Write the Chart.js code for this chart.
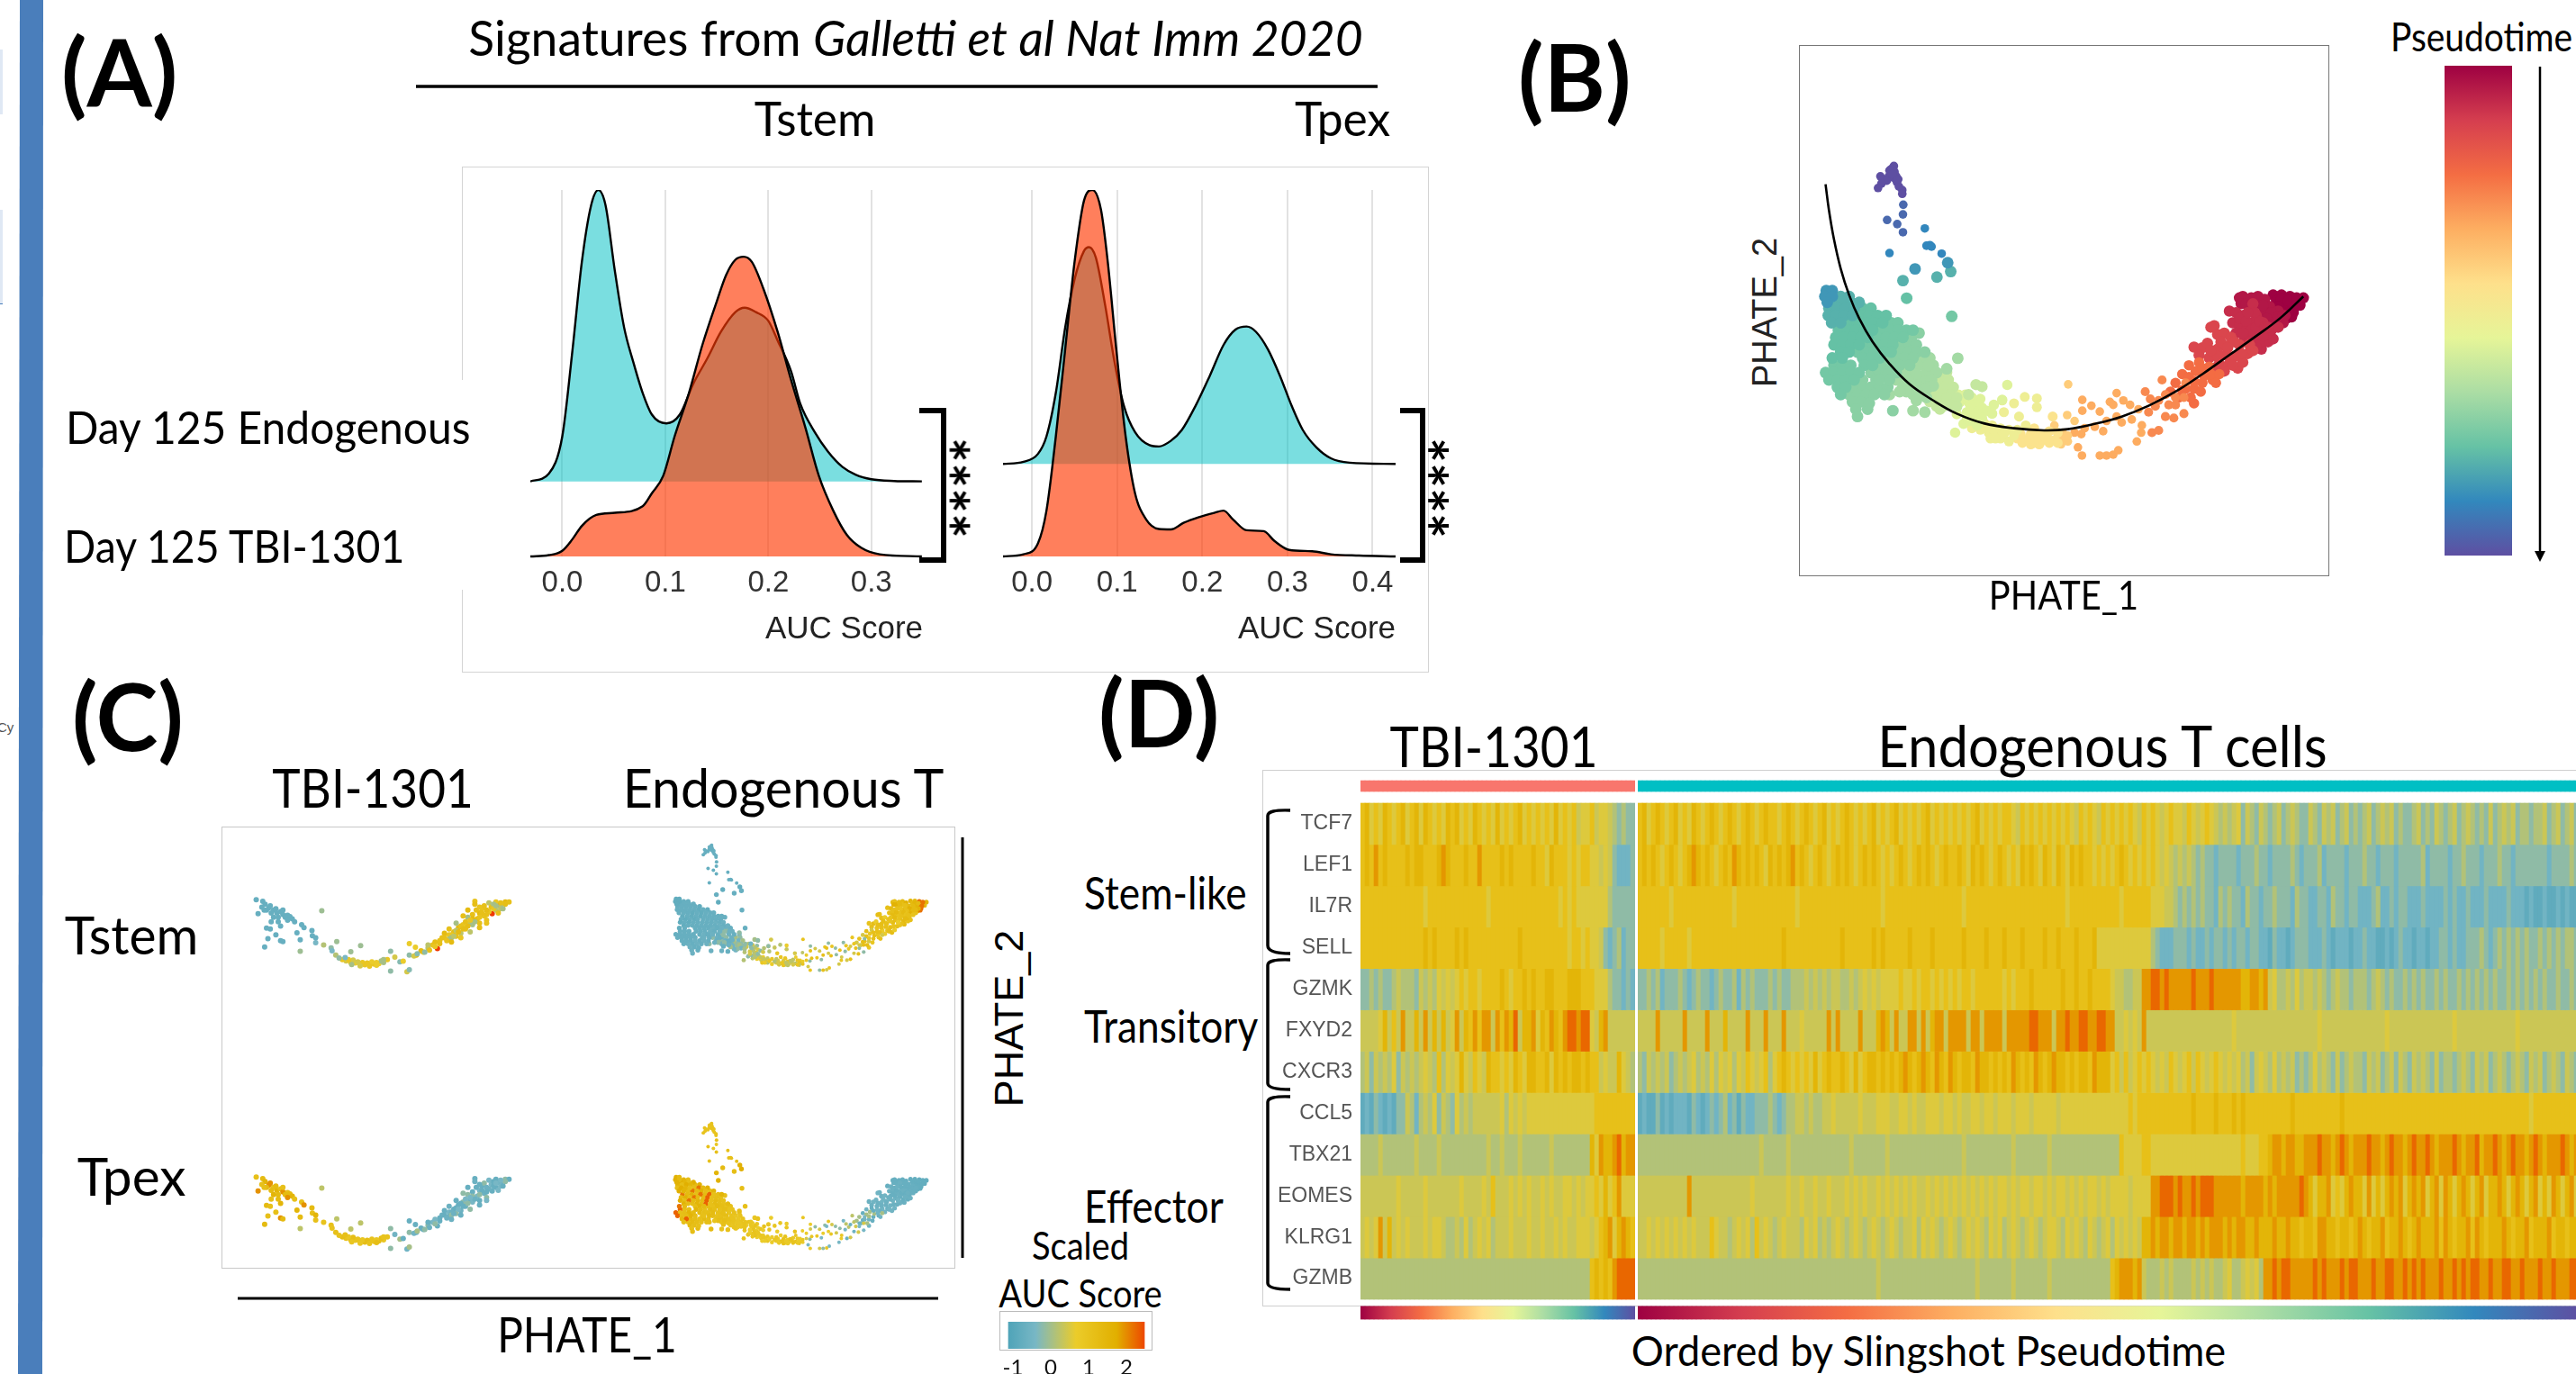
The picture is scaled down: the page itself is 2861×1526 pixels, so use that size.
<!DOCTYPE html>
<html><head><meta charset="utf-8">
<script src="https://cdn.jsdelivr.net/npm/chart.js@4"></script>
<style>
html,body{margin:0;padding:0;background:#fff;width:2861px;height:1526px;overflow:hidden}
#page{position:relative;width:2861px;height:1526px;overflow:hidden;background:#fff}
canvas{position:absolute}
.t{position:absolute;white-space:nowrap;color:#000;line-height:1.2}
.box{position:absolute;box-sizing:border-box}
svg{position:absolute;left:0;top:0}
</style></head><body><div id="page"></div>
<script>
/* ===== Panel A: density ridges, AUC score on x, density on y ===== */
const tstemEndoX=[-.031,-.013,0,.010,.019,.028,.035,.042,.051,.060,.069,.078,.087,.101,.114,.127,.141,.154,.168,.177,.188,.200,.209,.222,.231,.245,.258,.272,.285,.300,.322,.349];
const tstemEndoD=[0,.18,1.03,3.03,5.03,6.33,6.68,6.33,4.83,3.53,2.73,2.03,1.53,1.33,1.53,2.23,2.83,3.43,3.88,3.98,3.88,3.68,3.23,2.53,1.78,1.13,.68,.33,.15,.05,.01,0];
const tstemTbiX=[-.031,-.013,0,.010,.019,.033,.051,.078,.087,.098,.109,.123,.136,.150,.159,.168,.176,.184,.195,.209,.222,.236,.249,.263,.276,.290,.308,.349];
const tstemTbiD=[0,.03,.13,.40,.70,.95,1.00,1.15,1.45,1.85,2.75,3.75,4.85,5.85,6.45,6.80,6.87,6.75,6.15,5.15,4.05,2.95,1.85,1.05,.50,.20,.05,0];
const tpexEndoX=[-.034,-.010,.007,.017,.028,.039,.050,.061,.067,.075,.086,.097,.108,.121,.138,.149,.163,.176,.192,.209,.225,.239,.252,.263,.277,.291,.305,.318,.334,.351,.373,.427];
const tpexEndoD=[0,.05,.23,.63,1.63,3.13,4.23,4.88,4.97,4.73,3.63,2.33,1.33,.73,.43,.40,.53,.78,1.33,2.03,2.73,3.08,3.15,3.03,2.63,2.03,1.33,.78,.38,.13,.03,0];
const tpexTbiX=[-.034,-.010,.007,.017,.028,.039,.050,.061,.071,.081,.089,.099,.110,.121,.134,.149,.163,.178,.196,.214,.225,.236,.252,.272,.285,.302,.329,.351,.384,.427];
const tpexTbiD=[0,.05,.30,1.05,2.75,4.75,6.75,8.15,8.40,7.95,6.75,4.75,2.75,1.45,.85,.63,.62,.77,.90,1.00,1.05,.85,.60,.58,.35,.15,.12,.05,.02,0];
const tstemTicks=[0,.1,.2,.3];
const tpexTicks=[0,.1,.2,.3,.4];

/* ===== Panel B / C: PHATE embedding, cells binned by pseudotime ([PHATE_1, PHATE_2] as read) ===== */
const binTip=[[283,90],[276,100],[285,110],[270,105],[290,125],[282,130],[268,125],[243,125],[250,135],[262,140],[292,145],[246,150],[236,165],[298,160],[308,172],[308,185],[278,118],[296,135]];
const binIndigo=[[311,222],[310,255],[263,274],[293,288],[310,316]];
const binBlue=[[375,303],[380,362],[390,360],[395,365],[270,387],[425,389]];
const binA=[[82,515],[100,515],[78,535],[100,535],[85,555],[346,441],[443,420]];
const binB=[[125,535],[150,535],[108,555],[130,555],[155,555],[180,555],[90,575],[115,575],[140,575],[165,575],[88,600],[110,600],[135,600],[160,600],[98,625],[125,625],[411,469],[452,450],[310,481]];
const binC=[[190,575],[215,575],[185,600],[210,600],[235,600],[260,600],[150,625],[175,625],[200,625],[225,625],[250,625],[118,650],[145,650],[170,650],[195,650],[220,650],[110,675],[135,675],[160,675],[185,675],[205,675],[105,700],[130,700],[155,700],[180,700],[125,725],[150,725],[100,745],[130,745],[321,541]];
const binD=[[275,625],[295,625],[245,650],[270,650],[295,650],[320,650],[340,650],[235,675],[260,675],[285,675],[310,675],[205,700],[230,700],[255,700],[280,700],[175,725],[200,725],[225,725],[250,725],[275,725],[190,745],[215,745],[240,745],[105,770],[130,770],[155,770],[195,770],[220,770],[80,795],[105,795],[130,795],[155,795],[180,795],[90,820],[115,820],[140,820],[165,820],[115,845],[140,845],[125,870],[455,603]];
const binE=[[335,675],[305,700],[330,700],[350,700],[300,725],[325,725],[350,725],[375,725],[265,745],[290,745],[315,745],[340,745],[245,770],[275,770],[300,770],[330,770],[215,795],[240,795],[260,795],[290,795],[190,820],[230,820],[165,845],[190,845],[215,845],[240,845],[265,845],[150,870],[175,870],[200,870],[225,870],[160,895],[185,895],[170,920],[205,920],[175,945],[358,660],[280,925],[265,800],[240,820],[270,820],[255,870],[210,900]];
const binF=[[365,745],[390,745],[370,770],[400,770],[320,795],[345,795],[380,795],[410,795],[290,820],[315,820],[340,820],[365,820],[395,820],[310,845],[335,845],[360,845],[385,845],[270,870],[340,870],[473,746],[440,782],[340,925],[375,930],[355,770],[385,770],[330,820],[350,800],[400,840],[375,850],[355,860],[380,880],[350,890],[320,860],[300,860]];
const binG=[[440,795],[420,820],[445,820],[435,845],[460,845],[365,870],[390,870],[415,870],[450,870],[405,895],[430,895],[455,895],[420,920],[527,836],[545,843],[505,870],[410,850],[430,870],[400,880],[440,880],[470,880],[450,905],[470,910],[430,910],[410,910],[390,895]];
const binH=[[475,870],[495,870],[480,895],[505,895],[470,937],[515,880],[540,885],[530,900],[545,915],[560,925],[520,925],[535,940],[490,970],[465,1000],[575,935],[510,960],[530,975],[620,837],[605,888],[580,905],[500,930],[510,905],[525,950],[500,950],[545,950]];
const binI=[[515,985],[540,990],[565,1000],[590,1005],[550,965],[575,975],[600,985],[625,990],[610,930],[605,890],[640,900],[655,945],[672,878],[708,883],[708,913],[570,1020],[600,1020],[625,1030],[650,990],[675,975],[530,960],[555,985],[580,990],[610,1005],[640,1010],[585,1020],[560,975]];
const binJ=[[650,1020],[675,1025],[700,1035],[690,1005],[715,1010],[740,1020],[720,1030],[700,985],[745,995],[755,945],[770,1000],[760,1025],[665,1035],[690,1040],[715,1040],[745,1035],[770,1035],[730,1005],[660,1005],[685,1020],[705,1020]];
const binK=[[785,1000],[790,1025],[800,1030],[760,975],[798,940],[801,835],[820,960],[780,1040],[780,1015],[800,1010]];
const binL=[[820,1000],[840,1005],[850,985],[830,1050],[842,1078],[895,1078],[915,1078],[935,1075],[950,1060],[843,888],[843,925],[870,908],[880,980],[905,995],[915,960],[895,928],[925,895],[945,865],[935,905],[945,945],[965,890],[985,905],[960,965],[1005,1030],[1018,1000],[990,955],[1010,920],[1020,975]];
const binM=[[1030,860],[1045,885],[1050,1000],[1070,992],[1040,930],[1060,910],[1090,945],[1115,950],[1145,935],[1080,820],[1070,890],[1100,905],[1120,905],[1090,870],[1120,880],[1145,880],[1150,830]];
const binN=[[1175,900],[1120,830],[1140,800],[1160,770],[1180,790],[1200,830],[1175,850],[1205,805],[1230,820],[1240,830],[1105,860],[1140,855],[1225,800],[1160,810],[1190,760],[1150,850],[1175,825],[1200,780],[1130,880],[1165,880],[1195,860],[1220,775],[1250,800]];
const binO=[[1175,708],[1200,710],[1190,735],[1215,695],[1220,745],[1245,715],[1270,735],[1250,765],[1280,765],[1305,780],[1235,780],[1265,790],[1235,635],[1225,640],[1245,665],[1265,660],[1285,675],[1310,700],[1335,730],[1320,760],[1350,720],[1295,740],[1245,740],[1270,705],[1295,690],[1255,690],[1225,720],[1340,700],[1315,730],[1290,770],[1275,710]];
const binP=[[1280,585],[1300,590],[1320,600],[1290,625],[1310,635],[1330,650],[1350,670],[1375,715],[1395,690],[1410,680],[1370,690],[1345,625],[1370,650],[1390,665],[1300,660],[1325,680],[1360,600],[1380,625],[1405,650],[1350,560],[1425,640],[1310,610],[1330,620],[1345,650],[1360,640],[1370,620],[1385,640],[1395,640],[1320,660],[1340,690],[1360,710],[1380,670],[1355,590],[1335,590]];
const binQ=[[1310,540],[1320,535],[1315,560],[1365,535],[1365,560],[1385,545],[1400,570],[1380,590],[1400,600],[1420,615],[1440,625],[1445,600],[1425,585],[1345,580],[1330,560],[1345,540],[1380,565],[1405,590],[1425,605],[1390,610],[1410,630],[1440,600]];
const binR=[[1410,530],[1435,530],[1460,535],[1500,540],[1480,555],[1460,570],[1440,560],[1420,550],[1470,590],[1450,610],[1490,565],[1465,605],[1435,545],[1455,550],[1475,570],[1445,585],[1425,570],[1480,540],[1455,590]];
const cellBins=[binTip,binIndigo,binBlue,binA,binB,binC,binD,binE,binF,binG,binH,binI,binJ,binK,binL,binM,binN,binO,binP,binQ,binR];
const binPseudotime=[1,.95,.89,.86,.81,.78,.755,.72,.68,.62,.57,.52,.46,.40,.33,.27,.22,.13,.08,.04,0];
const slingshotCurve=[[80,152],[90,240],[105,340],[125,440],[150,530],[180,610],[220,690],[270,765],[330,835],[400,890],[470,935],[550,968],[640,985],[730,992],[800,988],[880,970],[960,945],[1040,908],[1120,860],[1200,800],[1280,735],[1360,670],[1430,610],[1500,535]];
const endoTstemScore=[[.18],[.18],[.18],[.16],[.18],[.18,.16],[.18],[.18,.2],[.2,.18,.3],[.22,.35,.3],[.3,.38,.45],[.38,.5,.42,.55],[.45,.55,.4],[.5,.4,.58],[.55,.3,.6,.45],[.3,.55,.45,.6],[.55,.6,.45,.62],[.58,.62,.6,.5],[.6,.65,.58],[.65,.6,.72],[.7,.65,.85]];
const endoTpexScore=[[.58],[.6,.55],[.6],[.72,.65],[.7,.62,.75],[.65,.72,.62,.85],[.62,.7,.65,.88,.6],[.6,.65,.62],[.58,.6,.62],[.58,.55],[.55,.58,.5],[.55,.5],[.52,.58],[.5,.55],[.45,.3,.55,.25,.5],[.25,.4,.2,.45],[.22,.35,.18],[.2,.22],[.18,.2],[.18],[.17]];

/* TBI-1301 cells */
const tbiStart=[[78,264],[92,270],[97,280],[90,290],[105,292],[100,300],[115,300],[110,310],[122,310],[130,305],[135,315],[125,325],[145,318],[150,322],[155,330],[160,340],[82,312],[100,362],[108,365],[125,340],[130,355],[120,385],[130,405],[135,408],[103,398],[96,427],[165,378],[175,350],[180,360],[197,370],[198,388],[172,402],[205,395],[95,300],[108,285],[120,295],[135,300],[140,325],[115,325],[110,340],[145,335]];
const tbiStray=[[172,442],[218,302],[301,422],[250,408],[280,443]];
const tbiBend=[[205,412],[222,420],[238,430],[240,440],[248,455],[255,465],[268,463]];
const tbiTrough=[[270,475],[280,480],[290,482],[300,485],[310,488],[320,488],[330,486],[340,484],[350,480],[358,470],[285,472],[305,480],[325,478],[345,475],[275,470],[295,478],[315,482],[335,480],[350,470],[262,470],[300,492],[320,493],[335,490],[282,487]];
const tbiRise=[[365,442],[374,462],[385,478],[392,476],[365,510],[400,512],[405,505],[405,415],[405,455],[415,458],[422,450],[418,428],[438,445]];
const tbiArm=[[545,270],[545,280],[575,275],[590,272],[610,272],[618,272],[600,285],[580,290],[560,295],[610,280],[590,300],[575,305],[555,310],[540,315],[530,325],[548,300],[565,320],[550,330],[535,345],[520,350],[510,360],[525,365],[540,350],[555,345],[570,335],[500,375],[515,380],[490,385],[480,380],[505,390],[490,400],[475,395],[455,420],[470,415],[445,430],[435,445],[420,455],[600,275],[585,280],[565,285],[555,290],[570,300],[600,295],[585,295],[540,330],[560,310],[545,340],[525,340],[515,355],[530,355],[505,370],[495,385],[510,375],[480,395],[495,395],[470,405],[485,405],[460,410],[445,420],[460,425],[430,440],[448,438],[590,285],[570,315],[555,325],[520,365],[500,390],[535,335],[530,300],[520,320],[505,345],[490,365],[570,345],[555,360],[535,375],[515,395],[495,410],[595,310],[605,295]];
const tbiHot=[[598,283],[582,312],[465,432]];
const tbiGroups=[tbiStart,tbiStray,tbiBend,tbiTrough,tbiRise,tbiArm,tbiHot];
const tbiTstemScore=[[.18],[.33],[.25,.38,.3],[.45,.55,.5,.35,.55],[.3,.45,.28,.5],[.58,.62,.4,.55,.65,.6,.35,.6],[.95]];
const tbiTpexScore=[[.6,.65,.7,.6,.8,.65],[.4],[.6,.58],[.58,.62,.55],[.3,.22,.35,.18],[.18,.2,.25,.18,.3],[.18]];

/* ===== Panel D: heatmap, one digit per column per gene (scaled expression level 0-9) ===== */
const genes=["TCF7","LEF1","IL7R","SELL","GZMK","FXYD2","CXCR3","CCL5","TBX21","EOMES","KLRG1","GZMB"];
const heatLevels=[.15,.22,.30,.375,.43,.47,.60,.70,.79,.87];
const tbiColumns=61, endoColumns=209;
const tbiHeat=[
"6756576567 5675765657 6756576565 7565675656 5657565645 5645543232 2",
"6768676666 7677666787 6667668666 6767666676 6576665656 6554542111 2",
"6666666666 6666566666 6666666656 6666666666 6666565655 5555532222 2",
"6666666666 6666767666 6767666666 6666676666 6666665665 6554212312 2",
"2232322343 3324343545 4565665666 6765667676 6776667776 6655532212 1",
"4444574648 4474847474 5847686884 8687947785 7687689989 9547844444 4",
"3424343524 3434543635 4575465476 6565765776 6757676776 7664544754 3",
"0102101022 4313435243 2534344444 4535454555 5555555555 5566666666 6",
"3333433333 3343333433 3333333343 3433343333 3343333333 3758778978 8",
"4444444454 4444544444 4454444546 4445454544 5454455454 5565756855 5",
"4545847454 5444545543 3435345453 4445444544 5445454455 5456785787 6",
"3333333333 3333333333 3333333333 3333333333 3333333333 3676768999 9"];
const endoHeat=[
"6756765675 6576567656 7656765676 6567656765 6756567656 5675656756 5656756565 6565675656 5665465656 5656565465 6546565656 5465654565 5465456543 4345243243 2342343224 3243423423 2342343423 2234232432 3423432324 2343423323 3423423423",
"6767656765 6787676567 6876767657 6767867656 7656767656 7676565676 5676765676 6765767656 7656576765 7657657676 6565656765 6565654543 4343232212 2221222322 1222232122 2312222122 2322122212 2222312222 1223222122 2322122222 2212222322",
"6666666566 6666666666 6566666666 6666656666 6666666666 6666566666 6666666666 6656666666 6666666666 6666656666 6666666566 6666555443 2323232213 2322132212 2322213221 1221322122 1112311212 2111211112 1211211121 1112111010 0100101001",
"6666656666 6566666666 6666666666 6676666666 6666676666 6676766666 7666676666 6676666766 6766676666 7667666766 6755555555 5555321112 2212112122 1212212211 0211012221 1121011101 1211001012 1101101122 1211222321 2323232322 3232323322",
"2232312223 2123221232 2313232223 2322333434 3434433434 5454555565 5656656565 6566566666 6565666766 6666766766 7666654433 4488998988 8889888988 8888778878 4533435344 3432343323 3323432322 3232322323 2232323232 3223232323 2322322322",
"4444844444 8444484447 4444844484 4484445444 4484844448 4447874844 8848478848 8884884888 8488888998 8848898899 8899884454 5484444444 4444444444 4454444444 4444444444 4544444444 4444445444 4444444444 4544444444 4444454444 4444444444",
"3243434234 3453435354 5354654563 5676565657 5676676575 6776767678 7678768768 7677687767 6768767687 6787767677 6877756464 5656545465 4564654565 4545342454 3534342323 5343242343 3243423424 3243432423 3234324342 3432343243 4234324324",
"0100201011 1021012123 1202112223 2123344343 3445444445 4445554455 4544555455 4544554554 5554555455 5554555555 5555555556 5666666666 6667666676 6676766666 6666676666 6666667666 6666666666 6666666666 6666666666 6666666656 6666666666",
"3333333333 3333333333 3333333433 3334333333 3333333433 3333343333 3333333333 3343333333 3334333333 3433333333 3333333655 5566555555 5555555555 5555655566 7887887788 8988789878 8898878988 7898898788 8987889788 9878988789 8788898788",
"4444444444 4844444444 4444454444 4445445445 4454445454 5445454545 4544545454 5454545454 5545455455 4545545454 5545455554 5555889998 9889899988 8888788887 8788888987 5778565787 7585757878 5787857858 7578757857 7875787578 5758757857",
"4454545454 5454446544 3454536454 3454443545 3434543454 3454345434 4535454345 4345454354 5345434543 4554354543 5434535454 5477878878 8788787888 7878877877 7877877677 6887767767 8767786778 7678777868 7677868767 7787677867 7786776773",
"3333333333 3333333333 3333333333 3333333333 3333333333 3334333333 3333333333 3333343333 3334333333 3433333333 3333367888 7843334343 3334343433 4533454538 8989988888 9898889899 8889889988 9898988898 8989899889 8899889888 9889888998"];

/* ===== Colour scales and legend ticks ===== */
const spectralStops=["#9e0142","#d53e4f","#f46d43","#fdae61","#fee08b","#e6f598","#abdda4","#66c2a5","#3288bd","#5e4fa2"];
const zissouStops=["#3b9ab2","#78b7c5","#ebcc2a","#e1af00","#f21a00"];
const scaledAucTicks=[-1,0,1,2];

/* ===== Helpers ===== */
const page=document.getElementById('page');
const hex=h=>[1,3,5].map(i=>parseInt(h.substr(i,2),16));
function ramp(stops,t){t=Math.max(0,Math.min(1,t));const p=t*(stops.length-1),i=Math.min(stops.length-2,Math.floor(p)),f=p-i,a=hex(stops[i]),b=hex(stops[i+1]);
 return `rgb(${a.map((v,k)=>Math.round(v+(b[k]-v)*f)).join(',')})`;}
function place(left,top,w,h){const c=document.createElement('canvas');c.width=w;c.height=h;c.style.left=left+'px';c.style.top=top+'px';c.style.width=w+'px';c.style.height=h+'px';page.appendChild(c);return c;}
function base(extra){return Object.assign({responsive:false,animation:false,devicePixelRatio:1,events:[],layout:{padding:0},plugins:{legend:{display:false},tooltip:{enabled:false},title:{display:false}}},extra);}
const CAL='Lato, "Open Sans", sans-serif', ARI='"Liberation Sans", Arial, sans-serif';
function text(s,x,cy,size,o={}){const d=document.createElement('div');d.className='t';d.innerHTML=s;
 const sx=o.sx??(o.font?1:.885);d.style.cssText+=`left:${x}px;top:${cy}px;font-size:${size}px;font-family:${o.font||CAL};font-weight:${o.bold?700:400};color:${o.color||'#000'};`;
 if(o.rot){d.style.transform=`translate(-50%,-50%) rotate(-90deg) scaleX(${sx})`;}
 else if(o.center){d.style.transform=`translate(-50%,-50%) scaleX(${sx})`;}
 else{d.style.transformOrigin='left center';d.style.transform=`translateY(-50%) scaleX(${sx})`;}
 page.appendChild(d);}
function box(l,t,w,h,css){const d=document.createElement('div');d.className='box';d.style.cssText+=`left:${l}px;top:${t}px;width:${w}px;height:${h}px;${css}`;page.appendChild(d);}
const noPadH=s=>{s.paddingLeft=0;s.paddingRight=0;};
const noPadV=s=>{s.paddingTop=0;s.paddingBottom=0;};

/* ===== Furniture ===== */
box(0,55,3,72,'background:#dfe8f4');box(0,233,3,105,'background:#dfe8f4;border-bottom:1px solid #4a7ebb');
box(513,185,1074,562,'border:1.5px solid #d4d4d4');
box(509,422,8,233,'background:#fff');
box(1998,50,589,590,'border:1.5px solid #777');
box(246,918,815,491,'border:1.5px solid #c8c8c8');
box(1402,855,1470,596,'border:1.5px solid #cfcfcf');
box(1110,1456,170,44,'border:1.5px solid #bbb');

const NS='http://www.w3.org/2000/svg';
const svg=document.createElementNS(NS,'svg');svg.setAttribute('width',2861);svg.setAttribute('height',1526);
svg.innerHTML=`
<polygon points="22,0 48,0 47,1526 20,1526" fill="#4a7ebb"/>
<line x1="462" y1="96" x2="1530" y2="96" stroke="#000" stroke-width="3.5"/>
<path d="M1021 456 H1048 V622 H1021" fill="none" stroke="#000" stroke-width="6"/>
<path d="M1555 456 H1580 V622 H1555" fill="none" stroke="#000" stroke-width="6"/>
<line x1="1069" y1="930" x2="1069" y2="1397" stroke="#000" stroke-width="3"/>
<line x1="264" y1="1442" x2="1042" y2="1442" stroke="#000" stroke-width="3"/>
<line x1="2821" y1="74" x2="2821" y2="612" stroke="#000" stroke-width="2.5"/>
<path d="M2815 612 L2827 612 L2821 624 Z" fill="#000"/>
<path d="M1433 900 Q1408 899 1408 906 V1050 Q1408 1059 1433 1059" fill="none" stroke="#000" stroke-width="3.5"/>
<path d="M1433 1066 Q1408 1065 1408 1072 V1203 Q1408 1210 1433 1210" fill="none" stroke="#000" stroke-width="3.5"/>
<path d="M1433 1218 Q1408 1217 1408 1224 V1425 Q1408 1432 1433 1432" fill="none" stroke="#000" stroke-width="3.5"/>`;
page.appendChild(svg);

/* ===== Panel A charts ===== */
function ridge(left,xmin,xmax,ticks,endoX,endoD,tbiX,tbiD,offset){
 const zip=(X,D,o)=>X.map((x,i)=>({x,y:D[i]+o}));
 const ds=(data,fillV,col,order)=>({type:'line',data,borderColor:'#000',borderWidth:2.4,backgroundColor:col,fill:{value:fillV},pointRadius:0,cubicInterpolationMode:'monotone',clip:false,order});
 new Chart(place(left,211,436,509),{type:'line',data:{datasets:[
   ds(zip(endoX,endoD,offset),offset,'rgba(0,191,196,.52)',2),
   ds(zip(tbiX,tbiD,0),0,'rgba(255,58,5,.65)',1)]},
  options:base({scales:{
   y:{display:false,min:0,max:8.4},
   x:{type:'linear',bounds:'data',min:xmin,max:xmax,border:{display:false},
      grid:{color:'#e2e2e2',lineWidth:2,drawTicks:false},
      afterFit:s=>{s.height=102;noPadH(s);},
      afterBuildTicks:s=>{s.ticks=ticks.map(v=>({value:v}));},
      ticks:{padding:10,color:'#333',font:{family:ARI,size:33},maxRotation:0,autoSkip:false,callback:v=>v.toFixed(1)},
      title:{display:true,text:'AUC Score',align:'end',color:'#222',font:{family:ARI,size:35},padding:{top:0,bottom:0}}}}})});
}
ridge(589,-.031,.35,tstemTicks,tstemEndoX,tstemEndoD,tstemTbiX,tstemTbiD,1.72);
ridge(1114,-.034,.427,tpexTicks,tpexEndoX,tpexEndoD,tpexTbiX,tpexTbiD,2.12);

/* ===== Panel B ===== */
const pts=b=>b.map(p=>({x:p[0],y:p[1]}));
const binDot=[1,1,1,1.35,1.35,1.35,1.35,1.35,1.35,1.3,1.2,1.15,1.15,1,1,1.05,1.2,1.3,1.3,1.3,1.3];
new Chart(place(1999,51,587,588),{type:'scatter',data:{datasets:[
  ...cellBins.map((b,i)=>({data:pts(b),pointRadius:4.8*binDot[i],pointBorderWidth:0,pointBackgroundColor:ramp(spectralStops,binPseudotime[i]),order:2})),
  {type:'line',data:pts(slingshotCurve),borderColor:'#000',borderWidth:2.6,pointRadius:0,tension:.4,fill:false,order:0}]},
 options:base({scales:{x:{type:'linear',display:false,min:21,max:1557},y:{display:false,reverse:true,min:-300,max:1467}}})});

/* Pseudotime colour bar */
function gradientFill(stops,dir){return c=>{const a=c.chart.chartArea;if(!a)return stops[0];
  const g=dir==='v'?c.chart.ctx.createLinearGradient(0,a.top,0,a.bottom):c.chart.ctx.createLinearGradient(a.left,0,a.right,0);
  stops.forEach((s,i)=>g.addColorStop(i/(stops.length-1),s));return g;};}
new Chart(place(2715,73,75,544),{type:'bar',data:{labels:['Pseudotime'],datasets:[{data:[[1,0]],backgroundColor:gradientFill(spectralStops,'v'),barPercentage:1,categoryPercentage:1}]},
 options:base({scales:{x:{display:false},y:{display:false,min:0,max:1}}})});

/* ===== Panel C ===== */
function umap(left,top,w,h,groups,scores,xr,yr,r,dot){
 new Chart(place(left,top,w,h),{type:'scatter',data:{datasets:groups.map((b,i)=>({data:pts(b),pointRadius:r*(dot?dot[i]:1),pointBorderWidth:0,
   pointBackgroundColor:b.map((_,j)=>ramp(zissouStops,scores[i][j%scores[i].length]))}))},
  options:base({scales:{x:{type:'linear',display:false,min:xr[0],max:xr[1]},y:{display:false,reverse:true,min:yr[0],max:yr[1]}}})});
}
umap(735,880,309,256,cellBins,endoTstemScore,[21,1557],[-300,1467],2,binDot);
umap(735,1189,309,256,cellBins,endoTpexScore,[21,1557],[-300,1467],2,binDot);
umap(240,910,424,250,tbiGroups,tbiTstemScore,[0,800],[0,750],3);
umap(240,1218,424,250,tbiGroups,tbiTpexScore,[0,800],[0,750],3);

/* Scaled AUC legend */
new Chart(place(1105,1468,180,58),{type:'bar',data:{labels:['Scaled AUC Score'],datasets:[{data:[[-1.12,2.48]],backgroundColor:gradientFill(zissouStops,'h'),barPercentage:1,categoryPercentage:1}]},
 options:base({indexAxis:'y',scales:{y:{display:false},
   x:{type:'linear',bounds:'data',min:-1.12-15/42,max:2.48+14/42,border:{display:false},grid:{display:false,drawTicks:false},
      afterFit:s=>{s.height=28;noPadH(s);},afterBuildTicks:s=>{s.ticks=scaledAucTicks.map(v=>({value:v}));},
      ticks:{padding:7,color:'#111',font:{family:CAL,size:24},autoSkip:false,maxRotation:0}}}})});

/* ===== Panel D heatmap ===== */
const norm=(s,n)=>{s=s.replace(/ /g,'');return s.padEnd(n,s[s.length-1]).slice(0,n);};
function heat(left,width,n,rows,annot,showGenes){
 const labels=Array.from({length:n},(_,i)=>i+1);
 const ds=rows.map((s,r)=>{const str=norm(s,n);return{label:genes[r],data:labels.map(()=>[r,r+1]),
    backgroundColor:[...str].map(c=>ramp(zissouStops,heatLevels[+c])),barPercentage:1,categoryPercentage:1,grouped:false};});
 ds.push({label:'group',data:labels.map(()=>[-.544,-.283]),backgroundColor:annot,barPercentage:1,categoryPercentage:1,grouped:false});
 ds.push({label:'pseudotime',data:labels.map(()=>[12.17,12.48]),backgroundColor:gradientFill(spectralStops,'h'),barPercentage:1,categoryPercentage:1,grouped:false});
 new Chart(place(left,860,width,610),{type:'bar',data:{labels,datasets:ds},
  options:base({scales:{x:{display:false},
   y:{display:showGenes,bounds:'data',reverse:true,min:-.697,max:12.587,position:'left',border:{display:false},grid:{display:false,drawTicks:false},
      afterFit:s=>{if(showGenes)s.width=109;noPadV(s);},afterBuildTicks:s=>{s.ticks=genes.map((_,i)=>({value:i+.5}));},
      ticks:{autoSkip:false,padding:9,color:'#555',font:{family:ARI,size:23},callback:v=>genes[Math.floor(v)]}}}})});
}
heat(1402,414,tbiColumns,tbiHeat,'#f8766d',true);
heat(1819,1045,endoColumns,endoHeat,'#00bfc4',false);

/* ===== Text ===== */
text('(A)',68,78,104,{bold:true,sx:1});
text('(B)',1686,84,104,{bold:true,sx:1});
text('(C)',80,794,104,{bold:true,sx:1});
text('(D)',1220,790,104,{bold:true,sx:1});
text('Signatures from <i>Galletti et al Nat Imm 2020</i>',1017,42,54,{center:true,sx:.99});
text('Tstem',905,131,52,{center:true,sx:.99});
text('Tpex',1491,131,52,{center:true,sx:.99});
text('Day 125 Endogenous',73,474,51,{sx:.94});
text('Day 125 TBI-1301',71,606,51,{sx:.91});
text('****',1080,542,66,{rot:true,bold:true,font:CAL,sx:1});
text('****',1612,542,66,{rot:true,bold:true,font:CAL,sx:1});
text('PHATE_2',1961,347,38,{rot:true,font:ARI,color:'#222'});
text('PHATE_1',2292,660,45,{center:true});
text('Pseudotime',2655,40,44);
text('TBI-1301',414,874,60,{center:true});
text('Endogenous T',870,874,60,{center:true,sx:.956});
text('Tstem',146,1038,58,{center:true,sx:.98});
text('Tpex',146,1306,58,{center:true,sx:1.01});
text('PHATE_2',1121,1131,45,{rot:true,font:ARI});
text('PHATE_1',652,1482,54,{center:true});
text('TBI-1301',1659,828,62,{center:true});
text('Endogenous T cells',2335,828,63,{center:true,sx:.95});
text('Stem-like',1204,991,50);
text('Transitory',1204,1139,50);
text('Effector',1204,1339,50);
text('Scaled',1200,1383,43,{center:true});
text('AUC Score',1200,1436,43,{center:true});
text('Ordered by Slingshot Pseudotime',2142,1500,46,{center:true,sx:.98});
text('Cy',-3,808,15,{font:ARI,color:'#555'});
</script></body></html>
